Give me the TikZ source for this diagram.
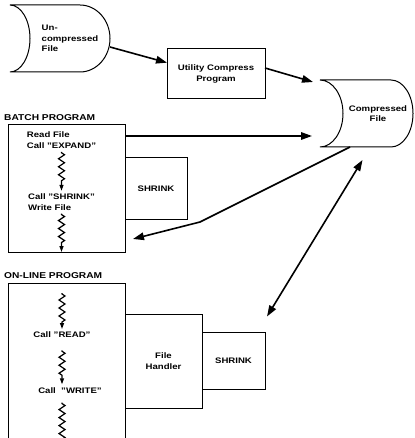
\documentclass[tikz,border=0pt]{standalone}
\usepackage{fontspec}
\setmainfont{Liberation Sans}[FakeStretch=1.2]
\usepackage{tikz}
\usetikzlibrary{arrows.meta,positioning,calc,decorations.pathmorphing}
\tikzset{
  box/.style={draw, line width=1pt, outer sep=0pt, inner sep=1pt, align=center,
    font=\bfseries\fontsize{8}{10.5}\selectfont},
  program/.style={box, anchor=north west, minimum width=117pt},
  storage/.style={inner sep=0pt, outer sep=0pt, minimum height=67pt,
    font=\bfseries\fontsize{8}{10.5}\selectfont},
  heading/.style={inner sep=1pt, font=\bfseries\fontsize{8.5}{10}\selectfont},
  calltext/.style={inner xsep=1pt, inner ysep=3pt, align=left,
    font=\bfseries\fontsize{8}{10.5}\selectfont},
  outline/.style={line width=1pt},
  wire/.style={-{Triangle[length=11pt,width=7.5pt]}, line width=1.6pt},
  twowire/.style={{Triangle[length=11pt,width=7.5pt]}-{Triangle[length=11pt,width=7.5pt]}, line width=1.6pt},
  wiggle/.style={-{Triangle[length=6pt,width=4pt]}, line width=1.2pt, decorate,
    decoration={zigzag, segment length=8pt, amplitude=3pt, pre length=1pt, post length=7pt}}
}
\newcommand{\storedfile}[3]{%
  \draw[outline] ($(#1.north west)+(-#2,0)$) -- ($(#1.north east)+(-#3,0)$)
    .. controls ($(#1.north east)+(-0.45*#3,0)$) and ($(#1.east)!0.55!(#1.north east)$) .. (#1.east)
    .. controls ($(#1.east)!0.55!(#1.south east)$) and ($(#1.south east)+(-0.45*#3,0)$) .. ($(#1.south east)+(-#3,0)$)
    -- ($(#1.south west)+(-#2,0)$)
    .. controls ($(#1.south west)+(-0.45*#2,0)$) and ($(#1.west)!0.55!(#1.south west)$) .. (#1.west)
    .. controls ($(#1.west)!0.55!(#1.north west)$) and ($(#1.north west)+(-0.45*#2,0)$) .. ($(#1.north west)+(-#2,0)$)
    -- cycle;}

\begin{document}
\begin{tikzpicture}[x=1pt, y=-1pt]
  \useasboundingbox (0,0) rectangle (414,438);
  \node[storage, minimum width=80pt, align=left] (unc) at (70,38.5) {Un-\\compressed\\File};
  \node[storage, minimum width=70pt, align=center] (cmp) at (378,113.5) {Compressed\\File};
  \storedfile{unc}{20}{30}
  \storedfile{cmp}{23}{22}
  \node[box, minimum width=98pt, minimum height=50pt] (util) at (216,74) {Utility Compress\\Program};

  \node[program, minimum height=127pt] (batch) at (8,125) {};
  \node[heading, above=3pt of batch.north west, anchor=south west, xshift=-5pt] (batchhead) {BATCH PROGRAM};
  \node[box, right=0pt of batch, minimum width=62pt, minimum height=62pt] (bshrink) {SHRINK};
  \node[calltext, below=4pt of batch.north, xshift=-5pt] (bread) {Read File\\Call "EXPAND"};
  \node[calltext, below=39pt of bread] (bwrite) {Call "SHRINK"\\Write File};
  \draw[wiggle] (bread) -- (bwrite);
  \draw[wiggle] (bwrite) -- (bwrite |- batch.south);

  \node[program, minimum height=165pt] (online) at (8,283) {};
  \node[heading, above=3pt of online.north west, anchor=south west, xshift=-5pt] (onlinehead) {ON-LINE PROGRAM};
  \node[box, right=0pt of online, yshift=4.5pt, minimum width=77pt, minimum height=94pt] (handler) {File\\Handler};
  \node[box, right=0pt of handler, minimum width=63pt, minimum height=57pt] (oshrink) {SHRINK};
  \node[calltext, below=46pt of online.north, xshift=-4.5pt] (oread) {Call "READ"};
  \node[calltext, below=43pt of oread, xshift=8pt] (owrite) {Call\ \ "WRITE"};
  \draw[wiggle] ($(oread |- online.north)+(0,10)$) -- (oread);
  \draw[wiggle] ($(oread.south)+(0,9)$) -- (oread |- owrite.north);
  \draw[wiggle] ($(oread |- owrite.south)+(0,6)$) -- (oread |- online.south);

  \coordinate (bend) at (200,222);
  \draw[wire] (unc.-12) -- (util.167);
  \draw[wire] (util.7) -- ($(cmp.north west)+(-30,2)$);
  \draw[wire] ($(batch.north east)+(0,11)$) -- ($(cmp.south west)+(-31,-11)$);
  \draw[wire] ($(cmp.south west)+(7,0)$) -- (bend) -- ($(batch.south east)+(8,-13)$);
  \draw[twowire] ($(cmp.south)+(-15.5,13)$) -- ($(oshrink.north east)+(2,-16)$);
\end{tikzpicture}
\end{document}
